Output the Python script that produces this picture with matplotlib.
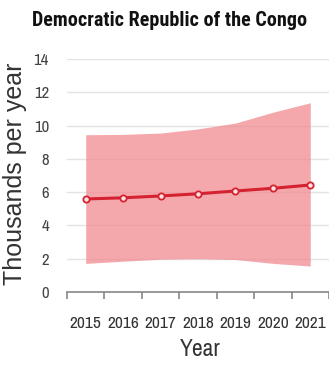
import matplotlib.pyplot as plt

years = ["2015", "2016", "2017", "2018", "2019", "2020", "2021"]
estimate = [5.59, 5.66, 5.77, 5.90, 6.07, 6.23, 6.43]
upper = [9.45, 9.47, 9.55, 9.80, 10.15, 10.80, 11.37]
lower = [1.72, 1.85, 1.97, 2.00, 1.95, 1.72, 1.56]

narrow = ["Archivo Narrow", "Roboto Condensed", "Liberation Sans"]
narrow_bold = ["Roboto Condensed", "Archivo Narrow", "Liberation Sans"]

fig = plt.figure(figsize=(3.29, 3.65), dpi=100)
ax = fig.add_axes([67 / 329, 1 - 292 / 365, 1 - 67 / 329, (292 - 59) / 365])

x = list(range(len(years)))
ax.fill_between(x, lower, upper, color="#f28b90", alpha=0.75, linewidth=0, zorder=1)
ax.plot(x, estimate, color="#d42230", linewidth=2.2, zorder=3,
        marker="o", markersize=4.5, markerfacecolor="#fbe3e4",
        markeredgecolor="#d42230", markeredgewidth=1.3)

ax.set_xlim(-0.5, 6.45)
ax.set_ylim(0, 14)
ax.set_yticks(range(0, 15, 2))
ax.set_xticks(x)
ax.set_xticklabels(years)
ax.set_xticks([i - 0.5 for i in range(8)], minor=True)

ax.grid(axis="y", color="#e3e3e3", linewidth=1)
ax.set_axisbelow(True)
for side in ["top", "right", "left"]:
    ax.spines[side].set_visible(False)
ax.spines["bottom"].set_color("#888888")
ax.spines["bottom"].set_linewidth(1.2)

ax.tick_params(axis="x", which="major", length=0, pad=17, labelsize=12.5,
               labelcolor="#333333")
ax.tick_params(axis="x", which="minor", length=5, color="#888888", width=1.2)
ax.tick_params(axis="y", length=0, pad=13, labelsize=12, labelcolor="#444444")
for lab in ax.get_xticklabels() + ax.get_yticklabels():
    lab.set_family(narrow)

fig.text(200 / 329, 1 - 350 / 365, "Year", fontsize=17, family=narrow,
         color="#333333", ha="center", va="center")
fig.text(15 / 329, 1 - 174 / 365, "Thousands per year", rotation=90, fontsize=18,
         family="Liberation Sans", color="#333333", ha="center", va="center")
fig.text(170 / 329, 1 - 20 / 365, "Democratic Republic of the Congo", fontsize=14.5,
         family=narrow_bold, weight="bold", color="#111111", ha="center", va="center")

fig.savefig("out.png", dpi=100)
